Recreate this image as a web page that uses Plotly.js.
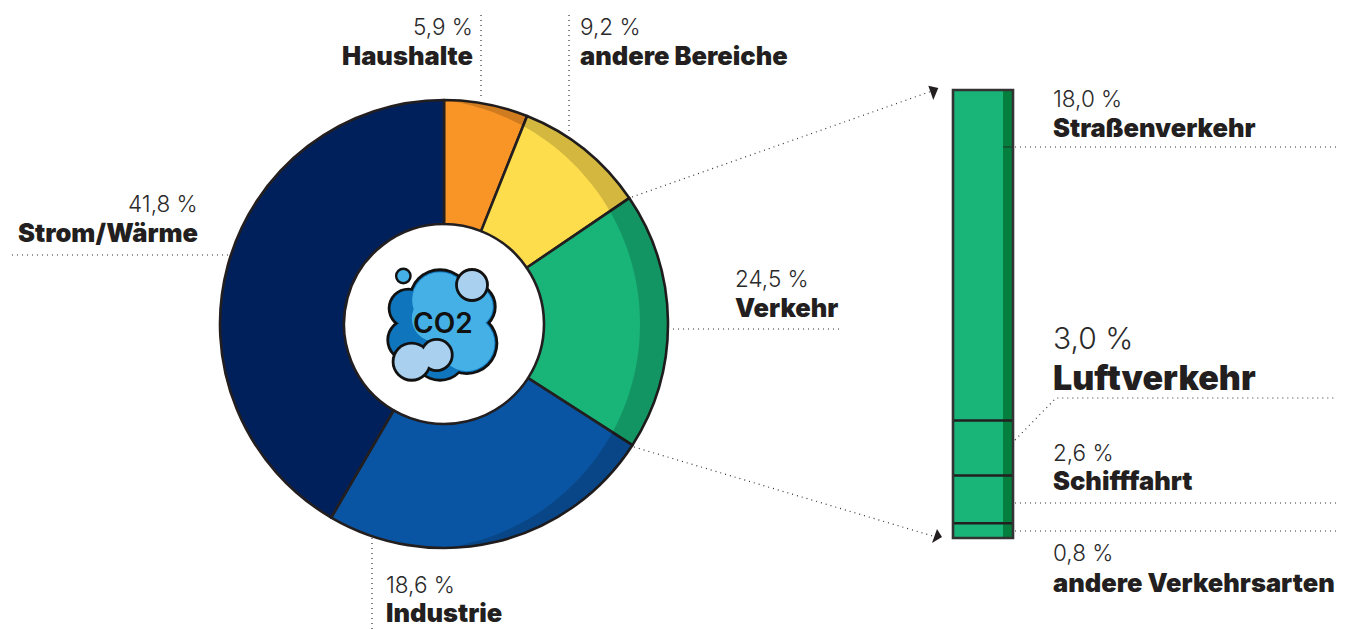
<!DOCTYPE html>
<html><head><meta charset="utf-8">
<script src="https://cdn.plot.ly/plotly-3.0.1.min.js"></script>
<style>html,body{margin:0;padding:0;background:#fff;overflow:hidden}#c{width:1349px;height:630px}</style>
</head><body><div id="c"></div>
<script>
// Data
const sectors = ['Haushalte','andere Bereiche','Verkehr','Industrie','Strom/Wärme'];
const sectorSliceShares = [6.05, 9.45, 18.6, 24.3, 41.6];   // slice sizes as measured in the picture
const sectorColors = ['#F99426','#FEDD4C','#18B478','#0A55A3','#00205C'];
const transportModes = ['Straßenverkehr','Luftverkehr','Schifffahrt','andere Verkehrsarten'];
const transportValues = [18.0, 3.0, 2.6, 0.8];
const barBody = 50, barStrip = 10;

// Page geometry (1 axis unit = 1 px)
const W = 1349, H = 630, INK = '#231F20', DOT = '#333333';
const cx = 444, cy = 324, R = 224;
const barTop = 90, barBottom = 538, barLeft = 953, barRight = 1013;
const total = transportValues.reduce((a,b)=>a+b,0);

const traces = [{
  type:'pie', values:sectorSliceShares, labels:sectors, sort:false, direction:'clockwise', rotation:0,
  hole:100/224, textinfo:'none', hoverinfo:'label',
  marker:{colors:sectorColors, line:{color:INK, width:2.6}},
  domain:{x:[(cx-R)/W,(cx+R)/W], y:[(H-cy-R)/H,(H-cy+R)/H]}, showlegend:false
},{
  type:'scatter', x:[0,W], y:[0,H], mode:'none', xaxis:'x', yaxis:'y', hoverinfo:'skip', showlegend:false
}];
transportModes.forEach((m,i)=>traces.push({
  type:'bar', name:m, x:[barBody/2, barBody+barStrip/2], y:[transportValues[i],transportValues[i]],
  width:[barBody,barStrip], marker:{color:['#18B478','#047F3E'], line:{width:0}},
  xaxis:'x2', yaxis:'y2', showlegend:false, hoverinfo:'name'
}));

// Shapes
const shapes = [];
const dotted = (pts)=>shapes.push({type:'path', xref:'x', yref:'y', layer:'above',
  path:'M'+pts.map(p=>p.join(',')).join('L'), line:{color:DOT,width:1.2,dash:'1px,4px'}});
const circle = (x,y,r,fill,lw)=>shapes.push({type:'circle', xref:'x', yref:'y', layer:'above',
  x0:x-r,x1:x+r,y0:y-r,y1:y+r, fillcolor:fill, line:{color:'#111',width:lw||0}});
const tri = (pts)=>shapes.push({type:'path', xref:'x', yref:'y', layer:'above',
  path:'M'+pts.map(p=>p.join(',')).join('L')+'Z', fillcolor:INK, line:{width:0}});

// crescent shading on the right of the donut
(function(){
  const lcx = 414, lr = 226, pts = [];
  for(let a=-90;a<=90;a+=2){const t=a*Math.PI/180; pts.push([cx+R*Math.cos(t),cy+R*Math.sin(t)]);}
  const end = Math.asin(224/226)*180/Math.PI;
  for(let a=end;a>=-end;a-=2){const t=a*Math.PI/180; pts.push([lcx+lr*Math.cos(t),cy+lr*Math.sin(t)]);}
  shapes.push({type:'path', xref:'x', yref:'y', layer:'above',
    path:'M'+pts.map(p=>p[0].toFixed(1)+','+p[1].toFixed(1)).join('L')+'Z',
    fillcolor:'rgba(0,0,0,0.17)', line:{width:0}});
})();

// leader lines
dotted([[481,15],[481,100]]);
dotted([[569,15],[569,135]]);
dotted([[12,255],[228,255]]);
dotted([[668,329],[840,329]]);
dotted([[372,538],[372,630]]);
dotted([[1015,147],[1337,147]]);
dotted([[1015,440],[1056,398],[1337,398]]);
dotted([[1015,503],[1337,503]]);
dotted([[1015,531],[1337,531]]);
dotted([[632,197],[932,91]]);
dotted([[634,447],[936,537]]);
tri([[928.3,85.7],[938.3,88],[933.3,100]]);
tri([[937,529],[942,537],[932,543]]);
shapes.push({type:'line', xref:'x', yref:'y', layer:'above', x0:1003,x1:1013,y0:147,y1:147, line:{color:INK,width:0.8}});

// bar outline and dividers
let run = 0;
transportValues.slice(0,-1).forEach(v=>{ run+=v;
  shapes.push({type:'line', xref:'x2', yref:'y2', layer:'above', x0:0,x1:barBody+barStrip,y0:run,y1:run, line:{color:INK,width:2.4}});
});
shapes.push({type:'rect', xref:'x', yref:'y', layer:'above', x0:barLeft,x1:barRight,y0:barTop,y1:barBottom, line:{color:'#333',width:2.6}});

// CO2 icon
const z = (v,o)=>o+v/3, zx=v=>z(v,340), zy=v=>z(v,220);
const lobes = [[300,240,95],[205,265,62],[205,360,66],[395,260,75],[380,370,95],[300,400,85]];
const lights = [[300,240,92],[395,260,72],[380,370,92],[340,310,85],[285,295,78]];
lobes.forEach(l=>circle(zx(l[0]),zy(l[1]),l[2]/3,'#111',0));
lobes.forEach(l=>circle(zx(l[0]),zy(l[1]),l[2]/3-2.8,'#0F75BC',0));
lights.forEach(l=>circle(zx(l[0]),zy(l[1]),l[2]/3-2.8,'#45B0E5',0));
circle(zx(190),zy(168),7.2,'#45B0E5',2.4);
circle(zx(396),zy(195),15.5,'#A9D1EF',2.8);
circle(zx(215),zy(425),20,'#111',0);
circle(zx(290),zy(405),17,'#111',0);
circle(zx(215),zy(425),17.2,'#A9D1EF',0);
circle(zx(290),zy(405),14.2,'#A9D1EF',0);

// Text
const shiftFor = a => a==='left' ? -2.5 : 2.5;
const light = (t,x,y,anchor,size)=>({text:t,x,y,xref:'x',yref:'y',xanchor:anchor,yanchor:'middle',showarrow:false,
  xshift:shiftFor(anchor),font:{family:'Inter, Lato, sans-serif',size:size||22.5,weight:300,color:'#2b2a2b'}});
const bold = (t,x,y,anchor,size)=>({text:t,x,y,xref:'x',yref:'y',xanchor:anchor,yanchor:'middle',showarrow:false,
  xshift:shiftFor(anchor),font:{family:'Inter, Lato, sans-serif',size:size||25.5,weight:900,color:INK}});
const annotations = [
  light('5,9 %',472,26,'right'), bold('Haushalte',472,55,'right'),
  light('9,2 %',580,26,'left'), bold('andere Bereiche',580,55,'left'),
  light('41,8 %',197,203,'right'), bold('Strom/Wärme',197,232,'right'),
  light('24,5 %',735,278,'left'), bold('Verkehr',735,307,'left'),
  light('18,6 %',386,584,'left'), bold('Industrie',386,612,'left'),
  light('18,0 %',1053,98,'left'), bold('Straßenverkehr',1053,127,'left'),
  light('3,0 %',1053,338,'left',30), bold('Luftverkehr',1053,377,'left',34),
  light('2,6 %',1053,452,'left'), bold('Schifffahrt',1053,480,'left'),
  light('0,8 %',1053,552,'left'), bold('andere Verkehrsarten',1053,582,'left'),
  {text:'CO2',x:443,y:323,xref:'x',yref:'y',xanchor:'center',yanchor:'middle',showarrow:false,
   font:{family:'Inter, sans-serif',size:28,weight:600,color:'#111'}}
];

const hidden = {visible:false, fixedrange:true, showgrid:false, zeroline:false};
const layout = {
  width:W, height:H, margin:{l:0,r:0,t:0,b:0}, paper_bgcolor:'#fff', plot_bgcolor:'rgba(0,0,0,0)',
  barmode:'stack', bargap:0, showlegend:false, shapes, annotations,
  xaxis:Object.assign({},hidden,{range:[0,W],domain:[0,1]}),
  yaxis:Object.assign({},hidden,{range:[H,0],domain:[0,1]}),
  xaxis2:Object.assign({},hidden,{range:[0,barBody+barStrip],domain:[barLeft/W,barRight/W],anchor:'y2'}),
  yaxis2:Object.assign({},hidden,{range:[total,0],domain:[(H-barBottom)/H,(H-barTop)/H],anchor:'x2'})
};
Plotly.newPlot('c',traces,layout,{displayModeBar:false,staticPlot:true});
</script></body></html>
